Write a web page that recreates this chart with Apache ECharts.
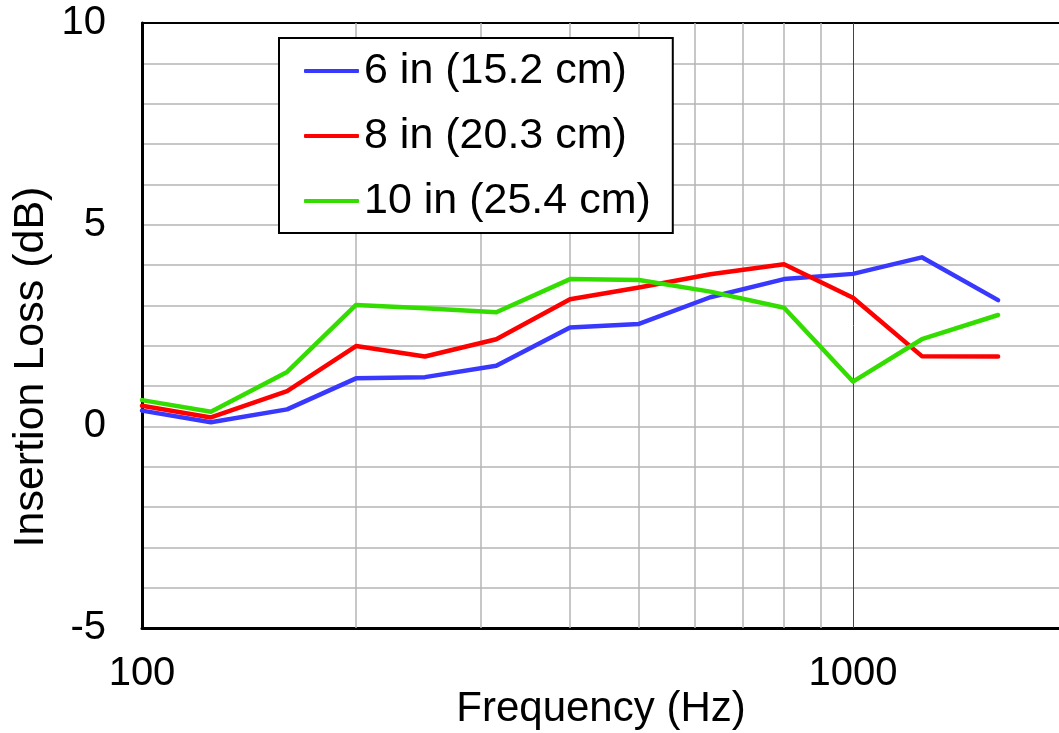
<!DOCTYPE html>
<html>
<head>
<meta charset="utf-8">
<script src="https://cdn.jsdelivr.net/npm/echarts@6/dist/echarts.min.js"></script>
<style>
  html, body { margin: 0; padding: 0; background: #fff; }
  #chart { width: 1059px; height: 733px; }
</style>
</head>
<body>
<div id="chart"></div>
<script>
// One-third octave band centre frequencies (Hz)
const frequencies = [100, 125, 160, 200, 250, 315, 400, 500, 630, 800, 1000, 1250, 1600];

// Insertion loss (dB) for each barrier thickness
const loss6in  = [0.39, 0.10, 0.42, 1.19, 1.22, 1.50, 2.45, 2.54, 3.20, 3.65, 3.78, 4.19, 3.13];
const loss8in  = [0.51, 0.22, 0.87, 1.99, 1.73, 2.16, 3.15, 3.44, 3.77, 4.02, 3.19, 1.74, 1.73];
const loss10in = [0.65, 0.36, 1.35, 3.01, 2.93, 2.83, 3.65, 3.63, 3.34, 2.94, 1.11, 2.16, 2.76];

const seriesNames = ['6 in (15.2 cm)', '8 in (20.3 cm)', '10 in (25.4 cm)'];

// Frequency axis range and labelled decades
const freqMin = 100;
const freqMax = 1949;
const decadeLabels = [100, 1000];

// Intermediate frequencies for the log-scale grid
const minorFrequencies = [200, 300, 400, 500, 600, 700, 800, 900];

const FONT = '"Liberation Sans", Arial, sans-serif';
const chart = echarts.init(document.getElementById('chart'), null, { renderer: 'canvas' });

const pair = (vals) => frequencies.map((f, i) => [f, vals[i]]);

const lineSeries = (name, vals, color) => ({
  name: name,
  type: 'line',
  data: pair(vals),
  symbol: 'none',
  z: 5,
  lineStyle: { color: color, width: 4.5, cap: 'round', join: 'round' },
  itemStyle: { color: color }
});

const gridLineData = minorFrequencies
  .map((f) => ({ xAxis: f, lineStyle: { color: '#b5b5b5', width: 1.5 } }))
  .concat([{ xAxis: 1000, lineStyle: { color: '#444444', width: 1 } }]);

chart.setOption({
  animation: false,
  backgroundColor: '#ffffff',
  grid: { left: 142, top: 23, bottom: 105, right: 0 },
  xAxis: [
    {
      type: 'log',
      logBase: 10,
      min: freqMin,
      max: freqMax,
      axisLine: { show: true, onZero: false, lineStyle: { color: '#000', width: 3 } },
      axisTick: { show: false },
      axisLabel: {
        fontFamily: FONT, fontSize: 40, color: '#000', margin: 26,
        showMaxLabel: false,
        formatter: (v) => (decadeLabels.indexOf(Math.round(v)) >= 0 ? String(Math.round(v)) : '')
      },
      splitLine: { show: false }
    },
    {
      type: 'log',
      logBase: 10,
      min: freqMin,
      max: freqMax,
      position: 'top',
      axisLine: { show: true, onZero: false, lineStyle: { color: '#000', width: 2 } },
      axisTick: { show: false },
      axisLabel: { show: false },
      splitLine: { show: false }
    }
  ],
  yAxis: {
    type: 'value',
    min: -5,
    max: 10,
    interval: 5,
    axisLine: { show: true, onZero: false, lineStyle: { color: '#000', width: 3 } },
    axisTick: { show: false },
    axisLabel: { fontFamily: FONT, fontSize: 40, color: '#000', margin: 36 },
    splitLine: { show: true, lineStyle: { color: '#b5b5b5', width: 1.5 } },
    minorTick: { show: false, splitNumber: 5 },
    minorSplitLine: { show: true, lineStyle: { color: '#b5b5b5', width: 1.5 } }
  },
  legend: {
    data: seriesNames,
    orient: 'vertical',
    left: 279,
    top: 38,
    z: 20,
    backgroundColor: '#ffffff',
    borderColor: '#000000',
    borderWidth: 2,
    padding: [11, 22, 10, 25],
    itemGap: 21,
    itemWidth: 55,
    itemHeight: 4,
    icon: 'roundRect',
    textStyle: { fontFamily: FONT, fontSize: 43, color: '#000', lineHeight: 44 }
  },
  graphic: [
    {
      type: 'text', x: 601, y: 709, z: 10,
      style: { text: 'Frequency (Hz)', font: '42px ' + FONT, fill: '#000', textAlign: 'center', textVerticalAlign: 'middle' }
    },
    {
      type: 'text', x: 31, y: 367, rotation: Math.PI / 2, z: 10,
      style: { text: 'Insertion Loss (dB)', font: '43px ' + FONT, fill: '#000', textAlign: 'center', textVerticalAlign: 'middle' }
    }
  ],
  series: [
    {
      name: 'grid',
      type: 'line',
      data: [],
      z: 1,
      silent: true,
      markLine: {
        silent: true,
        symbol: 'none',
        label: { show: false },
        lineStyle: { type: 'solid' },
        data: gridLineData
      }
    },
    lineSeries(seriesNames[0], loss6in, '#3838ff'),
    lineSeries(seriesNames[1], loss8in, '#ff0000'),
    lineSeries(seriesNames[2], loss10in, '#33dd00')
  ]
});
</script>
</body>
</html>
